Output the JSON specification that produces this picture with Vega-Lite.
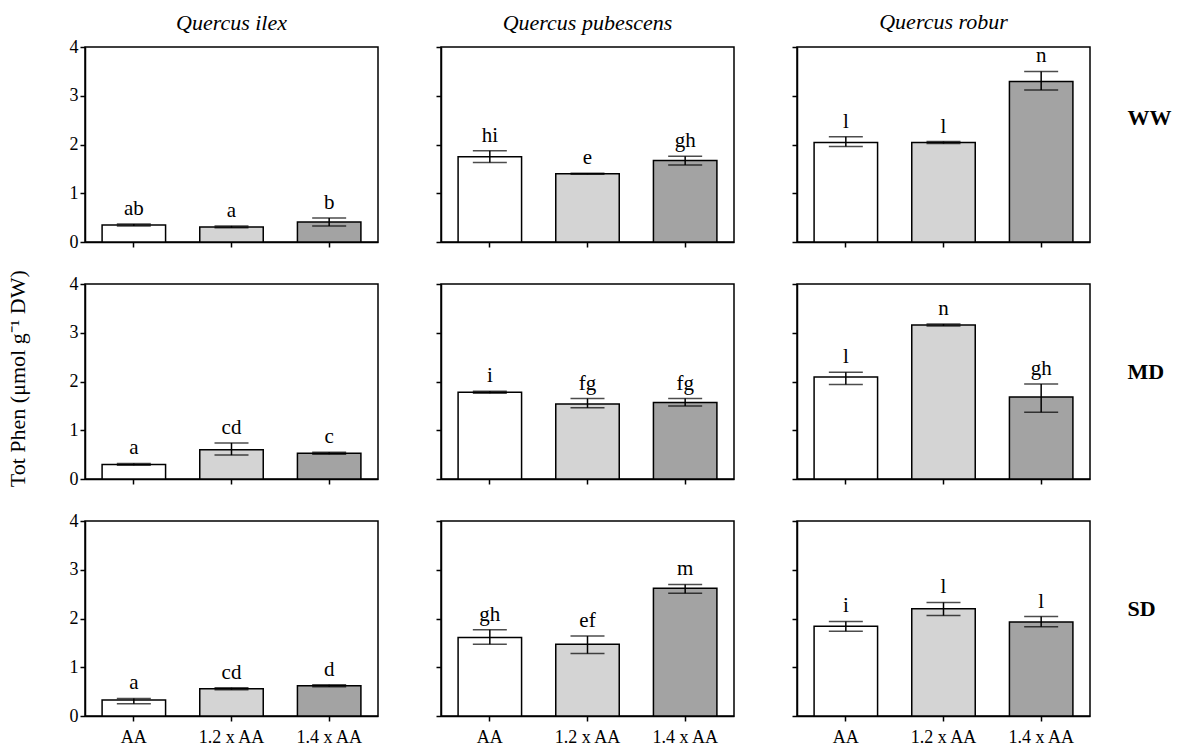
{
"$schema": "https://vega.github.io/schema/vega-lite/v6.json",
"background": "white",
"padding": {"left": 7, "top": 10, "right": 5, "bottom": 3},
"title": {"text": "Tot Phen (μmol g⁻¹ DW)", "orient": "left", "anchor": "middle", "fontSize": 22, "fontWeight": "normal", "font": "Liberation Serif", "color": "black", "offset": 38},
"datasets": {"vals": [
{"species": "Quercus ilex", "regime": "WW", "ozone": "AA", "mean": 0.35, "lo": 0.33, "hi": 0.37, "letter": "ab"},
{"species": "Quercus ilex", "regime": "WW", "ozone": "1.2 x AA", "mean": 0.31, "lo": 0.29, "hi": 0.33, "letter": "a"},
{"species": "Quercus ilex", "regime": "WW", "ozone": "1.4 x AA", "mean": 0.41, "lo": 0.33, "hi": 0.49, "letter": "b"},
{"species": "Quercus pubescens", "regime": "WW", "ozone": "AA", "mean": 1.75, "lo": 1.63, "hi": 1.87, "letter": "hi"},
{"species": "Quercus pubescens", "regime": "WW", "ozone": "1.2 x AA", "mean": 1.40, "lo": 1.39, "hi": 1.41, "letter": "e"},
{"species": "Quercus pubescens", "regime": "WW", "ozone": "1.4 x AA", "mean": 1.67, "lo": 1.58, "hi": 1.76, "letter": "gh"},
{"species": "Quercus robur", "regime": "WW", "ozone": "AA", "mean": 2.04, "lo": 1.96, "hi": 2.16, "letter": "l"},
{"species": "Quercus robur", "regime": "WW", "ozone": "1.2 x AA", "mean": 2.04, "lo": 2.02, "hi": 2.06, "letter": "l"},
{"species": "Quercus robur", "regime": "WW", "ozone": "1.4 x AA", "mean": 3.29, "lo": 3.12, "hi": 3.50, "letter": "n"},
{"species": "Quercus ilex", "regime": "MD", "ozone": "AA", "mean": 0.30, "lo": 0.28, "hi": 0.32, "letter": "a"},
{"species": "Quercus ilex", "regime": "MD", "ozone": "1.2 x AA", "mean": 0.60, "lo": 0.49, "hi": 0.74, "letter": "cd"},
{"species": "Quercus ilex", "regime": "MD", "ozone": "1.4 x AA", "mean": 0.53, "lo": 0.51, "hi": 0.55, "letter": "c"},
{"species": "Quercus pubescens", "regime": "MD", "ozone": "AA", "mean": 1.78, "lo": 1.76, "hi": 1.80, "letter": "i"},
{"species": "Quercus pubescens", "regime": "MD", "ozone": "1.2 x AA", "mean": 1.54, "lo": 1.46, "hi": 1.65, "letter": "fg"},
{"species": "Quercus pubescens", "regime": "MD", "ozone": "1.4 x AA", "mean": 1.57, "lo": 1.50, "hi": 1.65, "letter": "fg"},
{"species": "Quercus robur", "regime": "MD", "ozone": "AA", "mean": 2.09, "lo": 1.94, "hi": 2.19, "letter": "l"},
{"species": "Quercus robur", "regime": "MD", "ozone": "1.2 x AA", "mean": 3.16, "lo": 3.14, "hi": 3.18, "letter": "n"},
{"species": "Quercus robur", "regime": "MD", "ozone": "1.4 x AA", "mean": 1.68, "lo": 1.37, "hi": 1.95, "letter": "gh"},
{"species": "Quercus ilex", "regime": "SD", "ozone": "AA", "mean": 0.33, "lo": 0.25, "hi": 0.36, "letter": "a"},
{"species": "Quercus ilex", "regime": "SD", "ozone": "1.2 x AA", "mean": 0.56, "lo": 0.54, "hi": 0.58, "letter": "cd"},
{"species": "Quercus ilex", "regime": "SD", "ozone": "1.4 x AA", "mean": 0.62, "lo": 0.60, "hi": 0.64, "letter": "d"},
{"species": "Quercus pubescens", "regime": "SD", "ozone": "AA", "mean": 1.61, "lo": 1.47, "hi": 1.77, "letter": "gh"},
{"species": "Quercus pubescens", "regime": "SD", "ozone": "1.2 x AA", "mean": 1.47, "lo": 1.28, "hi": 1.64, "letter": "ef"},
{"species": "Quercus pubescens", "regime": "SD", "ozone": "1.4 x AA", "mean": 2.62, "lo": 2.52, "hi": 2.70, "letter": "m"},
{"species": "Quercus robur", "regime": "SD", "ozone": "AA", "mean": 1.84, "lo": 1.74, "hi": 1.94, "letter": "i"},
{"species": "Quercus robur", "regime": "SD", "ozone": "1.2 x AA", "mean": 2.20, "lo": 2.06, "hi": 2.33, "letter": "l"},
{"species": "Quercus robur", "regime": "SD", "ozone": "1.4 x AA", "mean": 1.93, "lo": 1.83, "hi": 2.04, "letter": "l"}
]},
"columns": 3,
"spacing": {"row": 22, "column": 55},
"concat": [
{"width": 293, "height": 195, "data": {"name": "vals"},
 "transform": [{"filter": "datum.species == 'Quercus ilex' && datum.regime == 'WW'"}],
 "title": {"text": "Quercus ilex", "fontStyle": "italic", "fontWeight": "normal", "fontSize": 22, "offset": 3},
 "encoding": {"x": {"field": "ozone", "type": "nominal", "sort": ["AA", "1.2 x AA", "1.4 x AA"], "scale": {"paddingInner": 0.35, "paddingOuter": 0.175}, "axis": {"title": null, "labels": false}}},
 "resolve": {"axis": {"y": "independent"}},
 "layer": [
  {"mark": {"type": "bar", "stroke": "black", "strokeWidth": 1.5}, "encoding": {"y": {"field": "mean", "type": "quantitative", "scale": {"domain": [0, 4]}, "axis": {"title": null, "values": [0, 1, 2, 3, 4], "labels": true}}, "fill": {"field": "ozone", "type": "nominal", "scale": {"domain": ["AA", "1.2 x AA", "1.4 x AA"], "range": ["#ffffff", "#d4d4d4", "#a3a3a3"]}, "legend": null}}},
  {"mark": {"type": "rule", "strokeWidth": 1.5, "color": "black"}, "encoding": {"y": {"field": "lo", "type": "quantitative", "axis": null}, "y2": {"field": "hi"}}},
  {"mark": {"type": "tick", "orient": "horizontal", "size": 34, "thickness": 1.5, "color": "black"}, "encoding": {"y": {"field": "lo", "type": "quantitative", "axis": null}}},
  {"mark": {"type": "tick", "orient": "horizontal", "size": 34, "thickness": 1.5, "color": "black"}, "encoding": {"y": {"field": "hi", "type": "quantitative", "axis": null}}},
  {"mark": {"type": "text", "baseline": "bottom", "dy": -5, "fontSize": 21, "font": "Liberation Serif", "color": "black"}, "encoding": {"y": {"field": "hi", "type": "quantitative", "axis": null}, "text": {"field": "letter"}}}
 ]},
{"width": 293, "height": 195, "data": {"name": "vals"},
 "transform": [{"filter": "datum.species == 'Quercus pubescens' && datum.regime == 'WW'"}],
 "title": {"text": "Quercus pubescens", "fontStyle": "italic", "fontWeight": "normal", "fontSize": 22, "offset": 11},
 "encoding": {"x": {"field": "ozone", "type": "nominal", "sort": ["AA", "1.2 x AA", "1.4 x AA"], "scale": {"paddingInner": 0.35, "paddingOuter": 0.175}, "axis": {"title": null, "labels": false}}},
 "resolve": {"axis": {"y": "independent"}},
 "layer": [
  {"mark": {"type": "bar", "stroke": "black", "strokeWidth": 1.5}, "encoding": {"y": {"field": "mean", "type": "quantitative", "scale": {"domain": [0, 4]}, "axis": {"title": null, "values": [0, 1, 2, 3, 4], "labels": false}}, "fill": {"field": "ozone", "type": "nominal", "scale": {"domain": ["AA", "1.2 x AA", "1.4 x AA"], "range": ["#ffffff", "#d4d4d4", "#a3a3a3"]}, "legend": null}}},
  {"mark": {"type": "rule", "strokeWidth": 1.5, "color": "black"}, "encoding": {"y": {"field": "lo", "type": "quantitative", "axis": null}, "y2": {"field": "hi"}}},
  {"mark": {"type": "tick", "orient": "horizontal", "size": 34, "thickness": 1.5, "color": "black"}, "encoding": {"y": {"field": "lo", "type": "quantitative", "axis": null}}},
  {"mark": {"type": "tick", "orient": "horizontal", "size": 34, "thickness": 1.5, "color": "black"}, "encoding": {"y": {"field": "hi", "type": "quantitative", "axis": null}}},
  {"mark": {"type": "text", "baseline": "bottom", "dy": -5, "fontSize": 21, "font": "Liberation Serif", "color": "black"}, "encoding": {"y": {"field": "hi", "type": "quantitative", "axis": null}, "text": {"field": "letter"}}}
 ]},
{"width": 293, "height": 195, "data": {"name": "vals"},
 "transform": [{"filter": "datum.species == 'Quercus robur' && datum.regime == 'WW'"}],
 "title": {"text": "Quercus robur", "fontStyle": "italic", "fontWeight": "normal", "fontSize": 22, "offset": 11},
 "encoding": {"x": {"field": "ozone", "type": "nominal", "sort": ["AA", "1.2 x AA", "1.4 x AA"], "scale": {"paddingInner": 0.35, "paddingOuter": 0.175}, "axis": {"title": null, "labels": false}}},
 "resolve": {"axis": {"y": "independent"}},
 "layer": [
  {"mark": {"type": "bar", "stroke": "black", "strokeWidth": 1.5}, "encoding": {"y": {"field": "mean", "type": "quantitative", "scale": {"domain": [0, 4]}, "axis": {"title": null, "values": [0, 1, 2, 3, 4], "labels": false}}, "fill": {"field": "ozone", "type": "nominal", "scale": {"domain": ["AA", "1.2 x AA", "1.4 x AA"], "range": ["#ffffff", "#d4d4d4", "#a3a3a3"]}, "legend": null}}},
  {"mark": {"type": "rule", "strokeWidth": 1.5, "color": "black"}, "encoding": {"y": {"field": "lo", "type": "quantitative", "axis": null}, "y2": {"field": "hi"}}},
  {"mark": {"type": "tick", "orient": "horizontal", "size": 34, "thickness": 1.5, "color": "black"}, "encoding": {"y": {"field": "lo", "type": "quantitative", "axis": null}}},
  {"mark": {"type": "tick", "orient": "horizontal", "size": 34, "thickness": 1.5, "color": "black"}, "encoding": {"y": {"field": "hi", "type": "quantitative", "axis": null}}},
  {"mark": {"type": "text", "baseline": "bottom", "dy": -5, "fontSize": 21, "font": "Liberation Serif", "color": "black"}, "encoding": {"y": {"field": "hi", "type": "quantitative", "axis": {"orient": "right", "title": "WW", "domain": false, "ticks": false, "labels": false, "titleAngle": 0, "titleAlign": "left", "titleBaseline": "middle", "titleX": 37, "titleY": 70, "titleFontSize": 22, "titleFontWeight": "bold"}}, "text": {"field": "letter"}}}
 ]},
{"width": 293, "height": 195, "data": {"name": "vals"},
 "transform": [{"filter": "datum.species == 'Quercus ilex' && datum.regime == 'MD'"}],
 "encoding": {"x": {"field": "ozone", "type": "nominal", "sort": ["AA", "1.2 x AA", "1.4 x AA"], "scale": {"paddingInner": 0.35, "paddingOuter": 0.175}, "axis": {"title": null, "labels": false}}},
 "resolve": {"axis": {"y": "independent"}},
 "layer": [
  {"mark": {"type": "bar", "stroke": "black", "strokeWidth": 1.5}, "encoding": {"y": {"field": "mean", "type": "quantitative", "scale": {"domain": [0, 4]}, "axis": {"title": null, "values": [0, 1, 2, 3, 4], "labels": true}}, "fill": {"field": "ozone", "type": "nominal", "scale": {"domain": ["AA", "1.2 x AA", "1.4 x AA"], "range": ["#ffffff", "#d4d4d4", "#a3a3a3"]}, "legend": null}}},
  {"mark": {"type": "rule", "strokeWidth": 1.5, "color": "black"}, "encoding": {"y": {"field": "lo", "type": "quantitative", "axis": null}, "y2": {"field": "hi"}}},
  {"mark": {"type": "tick", "orient": "horizontal", "size": 34, "thickness": 1.5, "color": "black"}, "encoding": {"y": {"field": "lo", "type": "quantitative", "axis": null}}},
  {"mark": {"type": "tick", "orient": "horizontal", "size": 34, "thickness": 1.5, "color": "black"}, "encoding": {"y": {"field": "hi", "type": "quantitative", "axis": null}}},
  {"mark": {"type": "text", "baseline": "bottom", "dy": -5, "fontSize": 21, "font": "Liberation Serif", "color": "black"}, "encoding": {"y": {"field": "hi", "type": "quantitative", "axis": null}, "text": {"field": "letter"}}}
 ]},
{"width": 293, "height": 195, "data": {"name": "vals"},
 "transform": [{"filter": "datum.species == 'Quercus pubescens' && datum.regime == 'MD'"}],
 "encoding": {"x": {"field": "ozone", "type": "nominal", "sort": ["AA", "1.2 x AA", "1.4 x AA"], "scale": {"paddingInner": 0.35, "paddingOuter": 0.175}, "axis": {"title": null, "labels": false}}},
 "resolve": {"axis": {"y": "independent"}},
 "layer": [
  {"mark": {"type": "bar", "stroke": "black", "strokeWidth": 1.5}, "encoding": {"y": {"field": "mean", "type": "quantitative", "scale": {"domain": [0, 4]}, "axis": {"title": null, "values": [0, 1, 2, 3, 4], "labels": false}}, "fill": {"field": "ozone", "type": "nominal", "scale": {"domain": ["AA", "1.2 x AA", "1.4 x AA"], "range": ["#ffffff", "#d4d4d4", "#a3a3a3"]}, "legend": null}}},
  {"mark": {"type": "rule", "strokeWidth": 1.5, "color": "black"}, "encoding": {"y": {"field": "lo", "type": "quantitative", "axis": null}, "y2": {"field": "hi"}}},
  {"mark": {"type": "tick", "orient": "horizontal", "size": 34, "thickness": 1.5, "color": "black"}, "encoding": {"y": {"field": "lo", "type": "quantitative", "axis": null}}},
  {"mark": {"type": "tick", "orient": "horizontal", "size": 34, "thickness": 1.5, "color": "black"}, "encoding": {"y": {"field": "hi", "type": "quantitative", "axis": null}}},
  {"mark": {"type": "text", "baseline": "bottom", "dy": -5, "fontSize": 21, "font": "Liberation Serif", "color": "black"}, "encoding": {"y": {"field": "hi", "type": "quantitative", "axis": null}, "text": {"field": "letter"}}}
 ]},
{"width": 293, "height": 195, "data": {"name": "vals"},
 "transform": [{"filter": "datum.species == 'Quercus robur' && datum.regime == 'MD'"}],
 "encoding": {"x": {"field": "ozone", "type": "nominal", "sort": ["AA", "1.2 x AA", "1.4 x AA"], "scale": {"paddingInner": 0.35, "paddingOuter": 0.175}, "axis": {"title": null, "labels": false}}},
 "resolve": {"axis": {"y": "independent"}},
 "layer": [
  {"mark": {"type": "bar", "stroke": "black", "strokeWidth": 1.5}, "encoding": {"y": {"field": "mean", "type": "quantitative", "scale": {"domain": [0, 4]}, "axis": {"title": null, "values": [0, 1, 2, 3, 4], "labels": false}}, "fill": {"field": "ozone", "type": "nominal", "scale": {"domain": ["AA", "1.2 x AA", "1.4 x AA"], "range": ["#ffffff", "#d4d4d4", "#a3a3a3"]}, "legend": null}}},
  {"mark": {"type": "rule", "strokeWidth": 1.5, "color": "black"}, "encoding": {"y": {"field": "lo", "type": "quantitative", "axis": null}, "y2": {"field": "hi"}}},
  {"mark": {"type": "tick", "orient": "horizontal", "size": 34, "thickness": 1.5, "color": "black"}, "encoding": {"y": {"field": "lo", "type": "quantitative", "axis": null}}},
  {"mark": {"type": "tick", "orient": "horizontal", "size": 34, "thickness": 1.5, "color": "black"}, "encoding": {"y": {"field": "hi", "type": "quantitative", "axis": null}}},
  {"mark": {"type": "text", "baseline": "bottom", "dy": -5, "fontSize": 21, "font": "Liberation Serif", "color": "black"}, "encoding": {"y": {"field": "hi", "type": "quantitative", "axis": {"orient": "right", "title": "MD", "domain": false, "ticks": false, "labels": false, "titleAngle": 0, "titleAlign": "left", "titleBaseline": "middle", "titleX": 37, "titleY": 87, "titleFontSize": 22, "titleFontWeight": "bold"}}, "text": {"field": "letter"}}}
 ]},
{"width": 293, "height": 195, "data": {"name": "vals"},
 "transform": [{"filter": "datum.species == 'Quercus ilex' && datum.regime == 'SD'"}],
 "encoding": {"x": {"field": "ozone", "type": "nominal", "sort": ["AA", "1.2 x AA", "1.4 x AA"], "scale": {"paddingInner": 0.35, "paddingOuter": 0.175}, "axis": {"title": null, "labels": true}}},
 "resolve": {"axis": {"y": "independent"}},
 "layer": [
  {"mark": {"type": "bar", "stroke": "black", "strokeWidth": 1.5}, "encoding": {"y": {"field": "mean", "type": "quantitative", "scale": {"domain": [0, 4]}, "axis": {"title": null, "values": [0, 1, 2, 3, 4], "labels": true}}, "fill": {"field": "ozone", "type": "nominal", "scale": {"domain": ["AA", "1.2 x AA", "1.4 x AA"], "range": ["#ffffff", "#d4d4d4", "#a3a3a3"]}, "legend": null}}},
  {"mark": {"type": "rule", "strokeWidth": 1.5, "color": "black"}, "encoding": {"y": {"field": "lo", "type": "quantitative", "axis": null}, "y2": {"field": "hi"}}},
  {"mark": {"type": "tick", "orient": "horizontal", "size": 34, "thickness": 1.5, "color": "black"}, "encoding": {"y": {"field": "lo", "type": "quantitative", "axis": null}}},
  {"mark": {"type": "tick", "orient": "horizontal", "size": 34, "thickness": 1.5, "color": "black"}, "encoding": {"y": {"field": "hi", "type": "quantitative", "axis": null}}},
  {"mark": {"type": "text", "baseline": "bottom", "dy": -5, "fontSize": 21, "font": "Liberation Serif", "color": "black"}, "encoding": {"y": {"field": "hi", "type": "quantitative", "axis": null}, "text": {"field": "letter"}}}
 ]},
{"width": 293, "height": 195, "data": {"name": "vals"},
 "transform": [{"filter": "datum.species == 'Quercus pubescens' && datum.regime == 'SD'"}],
 "encoding": {"x": {"field": "ozone", "type": "nominal", "sort": ["AA", "1.2 x AA", "1.4 x AA"], "scale": {"paddingInner": 0.35, "paddingOuter": 0.175}, "axis": {"title": null, "labels": true}}},
 "resolve": {"axis": {"y": "independent"}},
 "layer": [
  {"mark": {"type": "bar", "stroke": "black", "strokeWidth": 1.5}, "encoding": {"y": {"field": "mean", "type": "quantitative", "scale": {"domain": [0, 4]}, "axis": {"title": null, "values": [0, 1, 2, 3, 4], "labels": false}}, "fill": {"field": "ozone", "type": "nominal", "scale": {"domain": ["AA", "1.2 x AA", "1.4 x AA"], "range": ["#ffffff", "#d4d4d4", "#a3a3a3"]}, "legend": null}}},
  {"mark": {"type": "rule", "strokeWidth": 1.5, "color": "black"}, "encoding": {"y": {"field": "lo", "type": "quantitative", "axis": null}, "y2": {"field": "hi"}}},
  {"mark": {"type": "tick", "orient": "horizontal", "size": 34, "thickness": 1.5, "color": "black"}, "encoding": {"y": {"field": "lo", "type": "quantitative", "axis": null}}},
  {"mark": {"type": "tick", "orient": "horizontal", "size": 34, "thickness": 1.5, "color": "black"}, "encoding": {"y": {"field": "hi", "type": "quantitative", "axis": null}}},
  {"mark": {"type": "text", "baseline": "bottom", "dy": -5, "fontSize": 21, "font": "Liberation Serif", "color": "black"}, "encoding": {"y": {"field": "hi", "type": "quantitative", "axis": null}, "text": {"field": "letter"}}}
 ]},
{"width": 293, "height": 195, "data": {"name": "vals"},
 "transform": [{"filter": "datum.species == 'Quercus robur' && datum.regime == 'SD'"}],
 "encoding": {"x": {"field": "ozone", "type": "nominal", "sort": ["AA", "1.2 x AA", "1.4 x AA"], "scale": {"paddingInner": 0.35, "paddingOuter": 0.175}, "axis": {"title": null, "labels": true}}},
 "resolve": {"axis": {"y": "independent"}},
 "layer": [
  {"mark": {"type": "bar", "stroke": "black", "strokeWidth": 1.5}, "encoding": {"y": {"field": "mean", "type": "quantitative", "scale": {"domain": [0, 4]}, "axis": {"title": null, "values": [0, 1, 2, 3, 4], "labels": false}}, "fill": {"field": "ozone", "type": "nominal", "scale": {"domain": ["AA", "1.2 x AA", "1.4 x AA"], "range": ["#ffffff", "#d4d4d4", "#a3a3a3"]}, "legend": null}}},
  {"mark": {"type": "rule", "strokeWidth": 1.5, "color": "black"}, "encoding": {"y": {"field": "lo", "type": "quantitative", "axis": null}, "y2": {"field": "hi"}}},
  {"mark": {"type": "tick", "orient": "horizontal", "size": 34, "thickness": 1.5, "color": "black"}, "encoding": {"y": {"field": "lo", "type": "quantitative", "axis": null}}},
  {"mark": {"type": "tick", "orient": "horizontal", "size": 34, "thickness": 1.5, "color": "black"}, "encoding": {"y": {"field": "hi", "type": "quantitative", "axis": null}}},
  {"mark": {"type": "text", "baseline": "bottom", "dy": -5, "fontSize": 21, "font": "Liberation Serif", "color": "black"}, "encoding": {"y": {"field": "hi", "type": "quantitative", "axis": {"orient": "right", "title": "SD", "domain": false, "ticks": false, "labels": false, "titleAngle": 0, "titleAlign": "left", "titleBaseline": "middle", "titleX": 37, "titleY": 87, "titleFontSize": 22, "titleFontWeight": "bold"}}, "text": {"field": "letter"}}}
 ]}
],
"config": {
 "font": "Liberation Serif",
 "view": {"stroke": "black", "strokeWidth": 1.5},
 "axis": {"domainColor": "black", "domainWidth": 1.5, "tickColor": "black", "tickWidth": 1.5, "tickSize": 5, "labelColor": "black", "labelFont": "Liberation Serif", "grid": false, "titleFont": "Liberation Serif", "titleColor": "black"},
 "axisY": {"labelFontSize": 18, "labelPadding": 2},
 "axisX": {"labelAngle": 0, "labelPadding": 7, "labelFontSize": 18},
 "title": {"font": "Liberation Serif", "color": "black"}
}
}
